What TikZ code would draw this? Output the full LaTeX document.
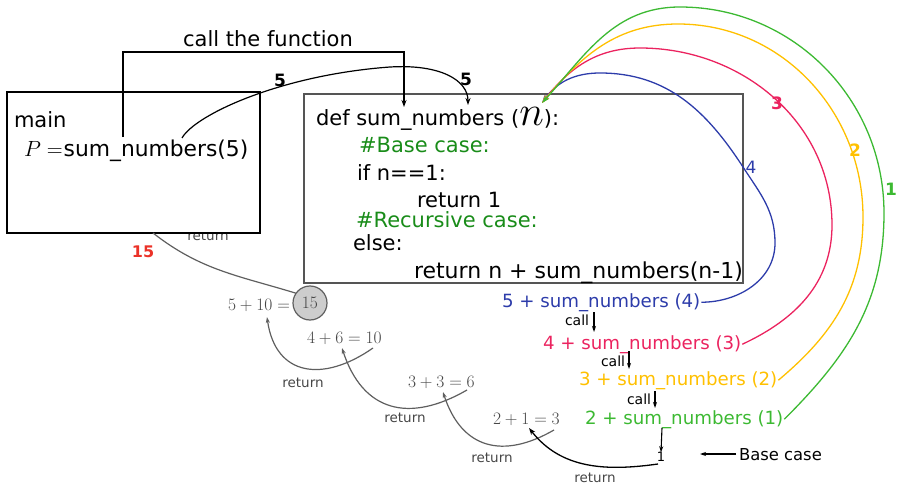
\RequirePackage{fix-cm}
\documentclass[tikz,border=0pt]{standalone}
\usepackage[no-math]{fontspec}
\setmainfont{DejaVu Sans}
\usetikzlibrary{arrows.meta}
\definecolor{cgreen}{RGB}{25,140,25}
\definecolor{cblue}{RGB}{45,60,170}
\definecolor{cred}{RGB}{235,35,95}
\definecolor{cyellow}{RGB}{255,192,0}
\definecolor{cgreenl}{RGB}{60,185,50}
\definecolor{mgray}{RGB}{70,70,70}
\definecolor{rgray}{RGB}{95,95,95}
\definecolor{boxgray}{RGB}{85,85,85}
\definecolor{circfill}{RGB}{205,205,205}
\definecolor{numred}{RGB}{235,50,40}
\begin{document}
\begin{tikzpicture}[x=1pt,y=1pt,
  every node/.style={inner sep=0pt,outer sep=0pt},
  code/.style={font=\fontsize{21}{24}\selectfont,anchor=base west},
  ctext/.style={font=\fontsize{18.2}{22}\selectfont,anchor=base west},
  calltext/.style={font=\fontsize{14}{16}\selectfont,anchor=base west},
  mathtext/.style={font=\fontsize{17.5}{20}\selectfont,anchor=base west,text=mgray},
  retlbl/.style={font=\fontsize{13.5}{16}\selectfont,text=mgray},
  numlbl/.style={font=\bfseries\fontsize{17}{20}\selectfont},
  blk/.style={draw=black,line width=1.2pt,-{Stealth[length=7pt,width=5pt]}},
  smallarr/.style={draw=black,line width=1.1pt,-{Stealth[length=6pt,width=4pt]}},
  retline/.style={draw=rgray,line width=1.2pt},
  retarr/.style={retline,-{Stealth[length=6pt,width=4pt]}},
  cur/.style={line width=1.3pt,-{Stealth[length=8pt,width=5pt]}}]
\useasboundingbox (0,0) rectangle (898,-487);

% return label partly hidden by main box
\node[retlbl] (ret0) at (208,-236) {return};

% main box
\node[draw=black,line width=1.5pt,fill=white,anchor=north west,minimum width=253pt,minimum height=141pt] (mainbox) at (7,-92) {};
\node[code] (mainlbl) at (14,-128) {main};
\node[code,font=\fontsize{21.8}{24}\selectfont] (pcall) at (24,-157) {{\fontsize{22}{24}\selectfont$P$\hspace{6pt}$=$}\hspace{1pt}sum\_numbers(5)};

% def box
\node[draw=boxgray,line width=2pt,anchor=north west,minimum width=439pt,minimum height=189pt] (defbox) at (304,-94) {};
\node[code] (l1) at (316,-125) {def sum\_numbers ({\fontsize{42}{42}\selectfont$n$}):};
\node[code,text=cgreen] (l2) at (359,-152) {\#Base case:};
\node[code] (l3) at (357,-180) {if n==1:};
\node[code] (l4) at (417,-207) {return 1};
\node[code,text=cgreen] (l5) at (356,-227) {\#Recursive case:};
\node[code] (l6) at (353,-250) {else:};
\node[code,font=\fontsize{22}{24}\selectfont] (l7) at (414,-278) {return n + sum\_numbers(n-1)};

% call the function bracket
\node[font=\fontsize{21}{24}\selectfont,anchor=base] (cf) at (268,-47) {call the function};
\coordinate (bs) at (123,-137);
\coordinate (bt) at (404,-52);
\coordinate (be) at (404,-107);
\draw[blk] (bs) |- (bt) -- (be);

% argument 5 curve
\coordinate (c5s) at (182,-138);
\coordinate (c5e) at (468,-105);
\draw[blk] (c5s) .. controls (195,-115) and (280,-75) .. (390,-67) .. controls (440,-64) and (468,-80) .. (c5e);
\node[numlbl] (five1) at (280,-80) {5};
\node[numlbl] (five2) at (466,-79) {5};

% recursive call lines
\node[ctext,text=cblue] (s4) at (502,-307) {5 + sum\_numbers (4)};
\node[ctext,text=cred] (s3) at (543,-349) {4 + sum\_numbers (3)};
\node[ctext,text=cyellow] (s2) at (579,-385) {3 + sum\_numbers (2)};
\node[ctext,text=cgreenl] (s1) at (585,-424) {2 + sum\_numbers (1)};

\node[calltext] (call1) at (565,-325) {call};
\node[calltext] (call2) at (601,-366) {call};
\node[calltext] (call3) at (627,-404) {call};
\coordinate (a1s) at (594,-312); \coordinate (a1e) at (594,-332);
\coordinate (a2s) at (629,-351); \coordinate (a2e) at (629,-369);
\coordinate (a3s) at (655,-391); \coordinate (a3e) at (655,-408);
\draw[smallarr] (a1s) -- (a1e);
\draw[smallarr] (a2s) -- (a2e);
\draw[smallarr] (a3s) -- (a3e);

\node[font=\fontsize{13}{15}\selectfont] (one) at (661,-457) {1};
\coordinate (a4s) at (662,-428);
\draw[smallarr] (a4s) -- (one.north);
\node[font=\fontsize{16.4}{19}\selectfont,anchor=base west] (basecase) at (739,-460) {Base case};
\coordinate (bcs) at (736,-454);
\coordinate (bce) at (700,-454);
\draw[smallarr] (bcs) -- (bce);

% coloured curves back to n
\coordinate (ntip) at (542,-103);
\draw[cblue,cur] ([xshift=1pt]s4.east) to[out=0,in=-90] (775,-243) to[out=90,in=-57] (743,-167) to[out=123,in=0] (600,-73) to[out=180,in=55] (ntip);
\draw[cred,cur] ([xshift=1pt]s3.east) to[out=25,in=-90] (832,-225) to[out=90,in=0] (640,-48) to[out=180,in=52] (ntip);
\draw[cyellow,cur] ([xshift=1pt]s2.east) to[out=40,in=-90] (863,-217) to[out=90,in=0] (678,-24) to[out=180,in=50] (ntip);
\draw[cgreenl,cur] ([xshift=1pt]s1.east) to[out=45,in=-90] (884,-213) to[out=90,in=0] (680,-7) to[out=180,in=48] (ntip);
\node[font=\fontsize{17}{20}\selectfont,text=cblue] (n4) at (751,-167) {4};
\node[numlbl,text=cred] (n3) at (777,-103) {3};
\node[numlbl,text=cyellow] (n2) at (855,-150) {2};
\node[numlbl,text=cgreenl] (n1) at (891,-189) {1};

% return values
\node[mathtext] (m5) at (228,-310) {$5+10=$};
\node[circle,draw=rgray,fill=circfill,line width=1.2pt,minimum size=34pt,font=\fontsize{17.5}{20}\selectfont,text=mgray] (c15) at (310,-303) {$15$};
\node[mathtext] (m4) at (307,-343) {$4+6=10$};
\node[mathtext] (m3) at (408,-387) {$3+3=6$};
\node[mathtext] (m2) at (493,-424) {$2+1=3$};

\coordinate (r1s) at (373,-348); \coordinate (r1e) at (267,-317);
\coordinate (r2s) at (467,-390); \coordinate (r2e) at (342,-348);
\coordinate (r3s) at (554,-430); \coordinate (r3e) at (443,-392);
\coordinate (r4s) at (658,-464); \coordinate (r4e) at (529,-428);
\coordinate (rb) at (153,-233);
\draw[retarr] (r1s) to[out=-145,in=-82,looseness=1.4] (r1e);
\draw[retarr] (r2s) to[out=-150,in=-72,looseness=1.3] (r2e);
\draw[retarr] (r3s) to[out=-150,in=-72,looseness=1.3] (r3e);
\draw[blk,line width=1.3pt] (r4s) to[out=-172,in=-52] (r4e);
\draw[retline] (c15.145) to[out=163,in=-38] (rb);

\node[retlbl] (ret1) at (303,-383) {return};
\node[retlbl] (ret2) at (405,-418) {return};
\node[retlbl] (ret3) at (492,-458) {return};
\node[retlbl] (ret4) at (595,-478) {return};
\node[font=\bfseries\fontsize{16}{19}\selectfont,text=numred] (r15) at (143,-252) {15};
\end{tikzpicture}
\end{document}
